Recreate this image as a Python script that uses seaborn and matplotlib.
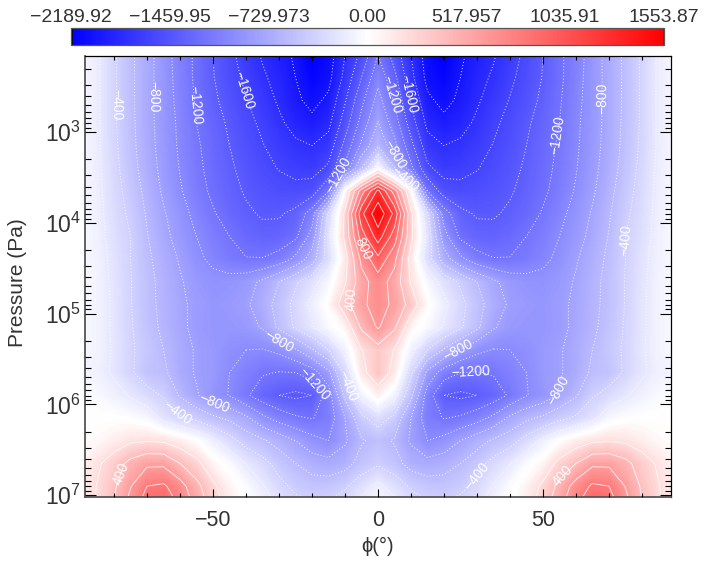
import numpy as np
import pandas as pd
import matplotlib.pyplot as plt
import seaborn as sns
from matplotlib.colors import TwoSlopeNorm

sns.set_theme(style='ticks')
plt.rcParams['font.family'] = ['Liberation Sans', 'DejaVu Sans']
plt.rcParams['mathtext.default'] = 'regular'
plt.rcParams['text.color'] = '#333333'

lats = list(range(-90, 95, 5))
log_p = [2.15, 2.4, 2.65, 2.9, 3.15, 3.4, 3.65, 3.9, 4.15, 4.4, 4.65,
         4.9, 5.15, 5.4, 5.65, 5.9, 6.15, 6.4, 6.65, 6.9, 7.15]

# values, one row per pressure, one column per latitude
field = [
    [-60,-170,-370,-560,-720,-910,-1090,-1240,-1400,-1550,-1690,-1820,-1920,-2030,-2215,-2100,-1800,-1550,-1200,-1480,-1800,-2100,-2215,-2030,-1920,-1820,-1690,-1550,-1400,-1240,-1090,-910,-720,-560,-370,-170,-60],
    [-60,-170,-370,-560,-730,-900,-1080,-1240,-1390,-1520,-1640,-1770,-1870,-2000,-2150,-2060,-1740,-1400,-1060,-1350,-1740,-2060,-2150,-2000,-1870,-1770,-1640,-1520,-1390,-1240,-1080,-900,-730,-560,-370,-170,-60],
    [-60,-170,-370,-560,-730,-900,-1060,-1220,-1360,-1480,-1590,-1700,-1830,-1960,-2060,-1960,-1620,-1250,-930,-1220,-1620,-1960,-2060,-1960,-1830,-1700,-1590,-1480,-1360,-1220,-1060,-900,-730,-560,-370,-170,-60],
    [-60,-170,-370,-550,-730,-890,-1040,-1200,-1320,-1430,-1540,-1640,-1760,-1880,-1950,-1850,-1500,-1130,-790,-1100,-1500,-1850,-1950,-1880,-1760,-1640,-1540,-1430,-1320,-1200,-1040,-890,-730,-550,-370,-170,-60],
    [-60,-170,-360,-540,-720,-880,-1030,-1170,-1290,-1400,-1500,-1590,-1680,-1760,-1800,-1720,-1340,-960,-620,-940,-1340,-1720,-1800,-1760,-1680,-1590,-1500,-1400,-1290,-1170,-1030,-880,-720,-540,-360,-170,-60],
    [-60,-160,-340,-520,-700,-860,-1010,-1150,-1270,-1370,-1460,-1540,-1610,-1660,-1680,-1560,-1150,-600,-50,-580,-1150,-1560,-1680,-1660,-1610,-1540,-1460,-1370,-1270,-1150,-1010,-860,-700,-520,-340,-160,-60],
    [-50,-150,-320,-480,-660,-830,-980,-1120,-1240,-1340,-1420,-1480,-1520,-1540,-1500,-1200,0,700,1250,700,0,-1200,-1500,-1540,-1520,-1480,-1420,-1340,-1240,-1120,-980,-830,-660,-480,-320,-150,-50],
    [-50,-140,-300,-440,-620,-780,-920,-1060,-1180,-1290,-1370,-1420,-1420,-1350,-1100,-350,240,1150,1553,1150,240,-350,-1100,-1350,-1420,-1420,-1370,-1290,-1180,-1060,-920,-780,-620,-440,-300,-140,-50],
    [-50,-130,-280,-400,-590,-740,-880,-1000,-1110,-1200,-1290,-1340,-1330,-1240,-920,-250,250,900,1300,900,250,-250,-920,-1240,-1330,-1340,-1290,-1200,-1110,-1000,-880,-740,-590,-400,-280,-130,-50],
    [-50,-120,-250,-400,-560,-690,-820,-950,-1050,-1140,-1190,-1190,-1120,-950,-700,-300,120,650,950,650,120,-300,-700,-950,-1120,-1190,-1190,-1140,-1050,-950,-820,-690,-560,-400,-250,-120,-50],
    [-50,-110,-240,-390,-540,-660,-780,-880,-930,-920,-880,-760,-600,-430,-270,-80,180,520,700,520,180,-80,-270,-430,-600,-760,-880,-920,-930,-880,-780,-660,-540,-390,-240,-110,-50],
    [-50,-110,-230,-390,-540,-650,-760,-850,-900,-880,-830,-700,-520,-340,-150,30,320,560,680,560,320,30,-150,-340,-520,-700,-830,-880,-900,-850,-760,-650,-540,-390,-230,-110,-50],
    [-50,-110,-230,-380,-520,-640,-750,-860,-900,-900,-880,-780,-560,-370,-220,-60,60,430,620,430,60,-60,-220,-370,-560,-780,-880,-900,-900,-860,-750,-640,-520,-380,-230,-110,-50],
    [-50,-110,-220,-370,-480,-600,-720,-820,-880,-960,-1000,-1010,-950,-820,-620,-400,-130,190,330,190,-130,-400,-620,-820,-950,-1010,-1000,-960,-880,-820,-720,-600,-480,-370,-220,-110,-50],
    [-90,-130,-230,-370,-520,-560,-720,-820,-880,-1000,-1090,-1180,-1210,-1200,-1100,-850,-350,130,350,130,-350,-850,-1100,-1200,-1210,-1180,-1090,-1000,-880,-820,-720,-560,-520,-370,-230,-130,-90],
    [-30,-60,-130,-220,-320,-420,-620,-780,-920,-1010,-1170,-1310,-1400,-1440,-1400,-1100,-550,-120,80,-120,-550,-1100,-1400,-1440,-1400,-1310,-1170,-1010,-920,-780,-620,-420,-320,-220,-130,-60,-30],
    [10,5,0,-20,-80,-250,-370,-450,-560,-640,-760,-950,-1080,-1170,-1210,-1120,-800,-450,-300,-450,-800,-1120,-1210,-1170,-1080,-950,-760,-640,-560,-450,-370,-250,-80,-20,0,5,10],
    [20,40,100,170,190,170,100,0,-150,-320,-480,-570,-680,-800,-930,-1000,-830,-620,-540,-620,-830,-1000,-930,-800,-680,-570,-480,-320,-150,0,100,170,190,170,100,40,20],
    [60,170,300,460,560,560,400,260,60,-50,-210,-330,-480,-600,-690,-730,-680,-520,-430,-520,-680,-730,-690,-600,-480,-330,-210,-50,60,260,400,560,560,460,300,170,60],
    [90,210,370,590,800,830,680,460,240,70,-40,-180,-340,-450,-510,-500,-430,-280,-150,-280,-430,-500,-510,-450,-340,-180,-40,70,240,460,680,830,800,590,370,210,90],
    [100,220,420,700,950,980,800,560,320,120,20,-90,-220,-310,-360,-330,-250,-110,-40,-110,-250,-330,-360,-310,-220,-90,20,120,320,560,800,980,950,700,420,220,100],
]

cbar_values = [-2189.92, -1459.95, -729.973, 0.0, 517.957, 1035.91, 1553.87]
cbar_labels = ['\u22122189.92', '\u22121459.95', '\u2212729.973', '0.00', '517.957', '1035.91', '1553.87']
neg_levels = [-2000, -1800, -1600, -1400, -1200, -1000, -800, -600, -400, -200]
pos_levels = [0, 200, 400, 600, 800, 1000, 1200, 1400]

# contour label: level, latitude, log10 pressure
labels = [
    (-400, -78.5, 2.70), (-800, -67, 2.61), (-1200, -55, 2.70), (-1600, -40.3, 2.54),
    (-1200, -11, 3.50), (-1200, 6.4, 2.56), (-1600, 8.5, 2.59), (-800, 6.4, 3.23),
    (-400, 8, 3.53), (-1200, 54, 3.03), (-800, 67.3, 2.63), (-400, 75, 4.19),
    (800, -3, 4.25), (400, -7, 4.85), (-800, -31, 5.35), (-1200, -20, 5.79),
    (-400, -8, 5.78), (-400, -61.5, 6.12), (-800, -50, 6.04), (400, -78, 6.76),
    (0, -80.5, 6.05), (-800, 26, 5.51), (-1200, 28, 5.68), (-800, 53.3, 5.83),
    (-400, 31.5, 6.83), (0, 39.7, 6.93), (400, 55.5, 6.77),
]

lat_lim = (-88.8, 88.8)
logp_lim = (2.163, 7.02)


def xpos(lat):
    return np.interp(lat, lats, np.arange(len(lats)))


def ypos(p):
    return (np.asarray(p, dtype=float) - log_p[0]) / (log_p[1] - log_p[0])


df = pd.DataFrame(field, index=log_p, columns=lats)
norm = TwoSlopeNorm(vmin=cbar_values[0], vcenter=0, vmax=cbar_values[-1])
cmap = plt.get_cmap('bwr').with_extremes(under='black')

fig = plt.figure(figsize=(7.07, 5.65), dpi=100)
ax = fig.add_axes([85 / 707, 68 / 565, 586 / 707, 441 / 565])
cax = fig.add_axes([71 / 707, 520 / 565, 593 / 707, 17 / 565])

sns.heatmap(df, ax=ax, cmap=cmap, norm=norm, shading='gouraud',
            xticklabels=False, yticklabels=False, cbar_ax=cax,
            cbar_kws={'orientation': 'horizontal'})

xs = np.arange(len(lats))
ys = np.arange(len(log_p))
# gouraud blends rgb, so a filled contour on top keeps the white rim around the red core
ax.contourf(xs, ys, df.values, levels=np.linspace(cbar_values[0], cbar_values[-1], 220),
            cmap=cmap, norm=norm, extend='both')
ax.contour(xs, ys, df.values, levels=neg_levels, colors='white', linewidths=0.7,
           linestyles=[(0, (1, 2.2))], alpha=0.85)
ax.contour(xs, ys, df.values, levels=pos_levels, colors='white', linewidths=0.6,
           linestyles='solid', alpha=0.85)

ax.set_xlim(xpos(lat_lim[0]), xpos(lat_lim[1]))
ax.set_ylim(ypos(logp_lim[1]), ypos(logp_lim[0]))

for level, lat, p in labels:
    cs = ax.contour(xs, ys, df.values, levels=[level], colors='none', linewidths=0)
    ax.clabel(cs, manual=[(xpos(lat), float(ypos(p)))], inline=False, fontsize=10,
              colors='white', fmt=lambda v: f'{v:.0f}'.replace('-', '\u2212'))

# axis ticks, drawn above the filled field
ax.set_axisbelow(False)
ax.set_xticks(xpos([-50, 0, 50]))
ax.set_xticklabels(['\u221250', '0', '50'], fontsize=15.5, color='#333333', rotation=0)
ax.set_xticks(xpos([v for v in range(-80, 90, 10) if v % 50 != 0]), minor=True)
decades = [3, 4, 5, 6, 7]
ax.set_yticks(ypos(decades))
ax.set_yticklabels([f'$10^{{{d}}}$' for d in decades], fontsize=16.5, color='#333333', rotation=0)
minor_p = [np.log10(m) + d for d in range(2, 7) for m in range(2, 10)]
ax.set_yticks(ypos([v for v in minor_p if logp_lim[0] < v < logp_lim[1]]), minor=True)

ax.tick_params(axis='x', which='major', direction='in', top=True, bottom=True, length=5.5,
               width=0.8, color='black', pad=9)
ax.tick_params(axis='x', which='minor', direction='in', top=True, bottom=True, length=3,
               width=0.8, color='black')
ax.tick_params(axis='y', which='major', direction='in', left=True, right=True, length=8,
               width=0.8, color='black', pad=3)
ax.tick_params(axis='y', which='minor', direction='in', left=True, right=True, length=4.5,
               width=0.8, color='black')

for side in ax.spines:
    ax.spines[side].set_visible(True)
    ax.spines[side].set_linewidth(0.9)
    ax.spines[side].set_color('black')
ax.spines['left'].set_color('#555555')
ax.spines['left'].set_linewidth(1.3)
ax.spines['bottom'].set_color('#555555')
ax.spines['bottom'].set_linewidth(1.3)

ax.set_xlabel('\u03d5(\u00b0)', fontsize=14.5, color='#333333')
ax.xaxis.set_label_coords(0.5, -0.09)
ax.set_ylabel('Pressure (Pa)', fontsize=15, color='#333333')
ax.yaxis.set_label_coords(-0.099, 0.485)

# colour bar along the top
cbar = ax.collections[0].colorbar
cbar.set_ticks(cbar_values, labels=cbar_labels)
cbar.set_ticks([(a + b) / 2 for a, b in zip(cbar_values[:-1], cbar_values[1:])], minor=True)
cax.xaxis.set_ticks_position('both')
cax.tick_params(axis='x', which='both', direction='in', labeltop=True, labelbottom=False,
                length=2.5, width=0.7, color='black', labelsize=14, labelcolor='#333333', pad=1.7)
cbar.outline.set_visible(True)
cbar.outline.set_linewidth(0.9)
cbar.outline.set_edgecolor('#555555')
cax.axvline(cbar_values[0], color='black', lw=2)
cax.axvline(cbar_values[-1], color='black', lw=1)

fig.savefig('out.png', dpi=100)
